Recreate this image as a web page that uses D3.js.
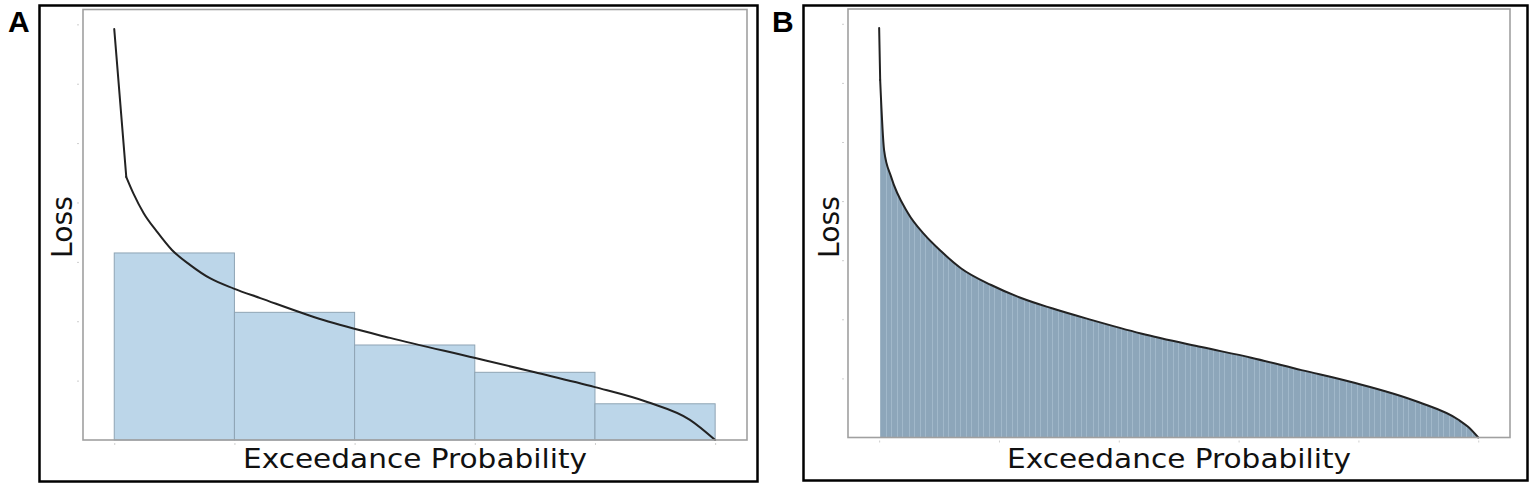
<!DOCTYPE html>
<html>
<head>
<meta charset="utf-8">
<script src="https://cdn.jsdelivr.net/npm/d3@7"></script>
<style>
  html, body { margin: 0; padding: 0; background: #fff; }
  svg { display: block; }
</style>
</head>
<body>
<svg id="chart" width="1535" height="496"></svg>
<script>
// tick positions (unlabelled)
const probTicks = [0, 0.2, 0.4, 0.6, 0.8, 1.0];
const lossTicks = [1, 2, 3, 4, 5, 6, 7];

// Panel A: exceedance curve + 5 coarse bins
const aCurveProb = [0, 0.020, 0.032, 0.049, 0.071, 0.096, 0.126, 0.160, 0.199, 0.243, 0.348, 0.459, 0.601, 0.700, 0.800, 0.887, 0.958, 1.0];
const aCurveLoss = [6.92, 4.43, 4.15, 3.82, 3.51, 3.20, 2.95, 2.72, 2.55, 2.39, 2.02, 1.72, 1.38, 1.14, 0.89, 0.64, 0.34, 0];
const aBinStart = [0, 0.2, 0.4, 0.6, 0.8];
const aBinEnd   = [0.2, 0.4, 0.6, 0.8, 1.0];
const aBinLoss  = [3.15, 2.15, 1.60, 1.14, 0.61];

// Panel B: exceedance curve, fine bins fill the area under it
const bCurveProb = [0, 0.0017, 0.0083, 0.020, 0.048, 0.075, 0.1035, 0.137, 0.187, 0.237, 0.287, 0.354, 0.437, 0.538, 0.621, 0.705, 0.788, 0.900, 0.967, 0.983, 1.0];
const bCurveLoss = [6.93, 6.05, 4.86, 4.41, 3.80, 3.44, 3.15, 2.86, 2.58, 2.36, 2.19, 1.99, 1.76, 1.53, 1.35, 1.14, 0.94, 0.60, 0.30, 0.18, 0];

const svg = d3.select("#chart");

// striped fill for the many thin bins of panel B
const defs = svg.append("defs");
const pat = defs.append("pattern")
  .attr("id", "bins")
  .attr("patternUnits", "userSpaceOnUse")
  .attr("width", 23).attr("height", 10);
pat.append("rect").attr("width", 23).attr("height", 10).attr("fill", "#8da6ba");
[0.5, 5.5, 12.5, 17.5].forEach(x => {
  pat.append("line").attr("x1", x).attr("x2", x).attr("y1", 0).attr("y2", 10)
    .attr("stroke", "#a1b8ca").attr("stroke-width", 1);
});

function drawPanel(cfg) {
  const { outer, inner, letter, letterX, lossX } = cfg;
  const g = svg.append("g");

  const x = d3.scaleLinear().domain([-0.052, 1.053]).range([inner.x, inner.x + inner.w]);
  const y = d3.scaleLinear().domain([0, 7.25]).range([inner.y + inner.h, inner.y]);

  // outer black frame
  g.append("rect")
    .attr("x", outer.x).attr("y", outer.y)
    .attr("width", outer.w).attr("height", outer.h)
    .attr("fill", "none").attr("stroke", "#000").attr("stroke-width", 2.5);

  // panel letter
  svg.append("text")
    .attr("x", letterX).attr("y", 32)
    .attr("font-family", "Liberation Sans, Arial, sans-serif")
    .attr("font-weight", "bold").attr("font-size", 30)
    .text(letter);

  // faint ticks
  const yAxis = g.append("g")
    .attr("transform", `translate(${inner.x - 4},0)`)
    .call(d3.axisLeft(y).tickValues(lossTicks).tickSize(2).tickSizeOuter(0).tickFormat(""));
  const xAxis = g.append("g")
    .attr("transform", `translate(0,${inner.y + inner.h + 3})`)
    .call(d3.axisBottom(x).tickValues(probTicks).tickSize(2).tickSizeOuter(0).tickFormat(""));
  [yAxis, xAxis].forEach(ax => {
    ax.select(".domain").remove();
    ax.selectAll("line").attr("stroke", "#cfcfcf");
  });

  cfg.marks(g, x, y);

  // inner plot frame
  g.append("rect")
    .attr("x", inner.x).attr("y", inner.y)
    .attr("width", inner.w).attr("height", inner.h)
    .attr("fill", "none").attr("stroke", "#a0a0a0").attr("stroke-width", 1.6);

  // axis titles
  g.append("text")
    .attr("x", inner.x + inner.w / 2).attr("y", 468)
    .attr("text-anchor", "middle")
    .attr("font-family", "DejaVu Sans, sans-serif")
    .attr("font-size", 27)
    .attr("textLength", 344).attr("lengthAdjust", "spacingAndGlyphs")
    .attr("fill", "#111")
    .text("Exceedance Probability");

  g.append("text")
    .attr("transform", `translate(${lossX},227) rotate(-90)`)
    .attr("text-anchor", "middle")
    .attr("font-family", "DejaVu Sans, sans-serif")
    .attr("font-size", 29)
    .attr("textLength", 62).attr("lengthAdjust", "spacingAndGlyphs")
    .attr("fill", "#111")
    .text("Loss");
}

// straight first segment (sharp kink), smooth after it
function drawCurve(g, x, y, pts) {
  const straight = d3.line().x(d => x(d[0])).y(d => y(d[1]));
  const smooth = d3.line().curve(d3.curveMonotoneX).x(d => x(d[0])).y(d => y(d[1]));
  [[straight, pts.slice(0, 2)], [smooth, pts.slice(1)]].forEach(([gen, seg]) => {
    g.append("path")
      .datum(seg)
      .attr("d", gen)
      .attr("fill", "none")
      .attr("stroke", "#222")
      .attr("stroke-width", 2)
      .attr("stroke-linecap", "round")
      .attr("stroke-linejoin", "round");
  });
}

drawPanel({
  outer: { x: 39.5, y: 5.5, w: 718, h: 476 },
  inner: { x: 83, y: 9.5, w: 664, h: 430.5 },
  letter: "A", letterX: 8, lossX: 72,
  marks: (g, x, y) => {
    const bins = aBinStart.map((s, i) => ({ s, e: aBinEnd[i], v: aBinLoss[i] }));
    g.selectAll("rect.bin")
      .data(bins)
      .join("rect")
      .attr("class", "bin")
      .attr("x", d => x(d.s))
      .attr("width", d => x(d.e) - x(d.s))
      .attr("y", d => y(d.v))
      .attr("height", d => y(0) - y(d.v))
      .attr("fill", "#bcd6e9")
      .attr("stroke", "#8fa4b4")
      .attr("stroke-width", 1);

    drawCurve(g, x, y, aCurveProb.map((p, i) => [p, aCurveLoss[i]]));
  }
});

drawPanel({
  outer: { x: 803.5, y: 5.5, w: 724, h: 475 },
  inner: { x: 848, y: 9, w: 662, h: 428.5 },
  letter: "B", letterX: 772, lossX: 839,
  marks: (g, x, y) => {
    const pts = bCurveProb.map((p, i) => [p, bCurveLoss[i]]);
    // the first bin sits below the very top of the curve
    g.append("path")
      .datum(pts.slice(1))
      .attr("d", d3.area().curve(d3.curveMonotoneX).x(d => x(d[0])).y0(y(0)).y1(d => y(d[1])))
      .attr("fill", "url(#bins)");

    drawCurve(g, x, y, pts);
  }
});
</script>
</body>
</html>
